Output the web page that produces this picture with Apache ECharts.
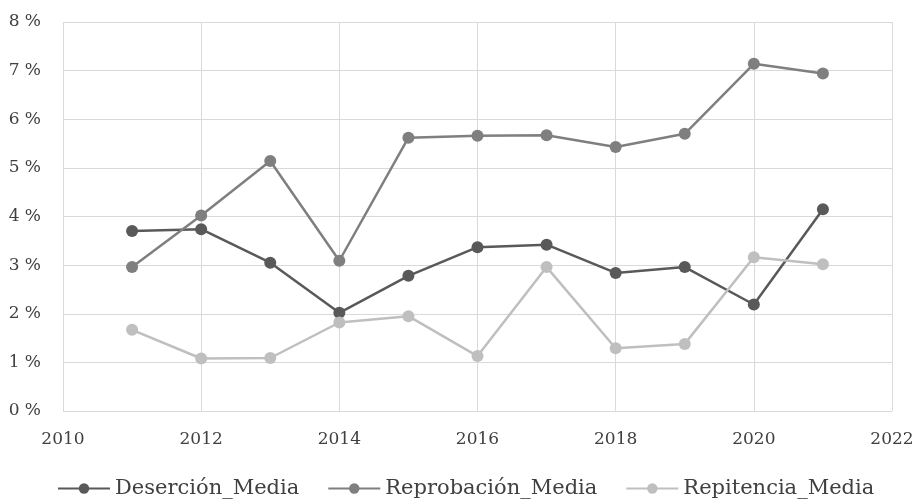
<!DOCTYPE html>
<html>
<head>
<meta charset="utf-8">
<script src="https://cdn.jsdelivr.net/npm/echarts@6/dist/echarts.min.js"></script>
<style>
html,body{margin:0;padding:0;background:#fff;}
#chart{width:918px;height:499px;}
</style>
</head>
<body>
<div id="chart"></div>
<script>
const years = [2011, 2012, 2013, 2014, 2015, 2016, 2017, 2018, 2019, 2020, 2021];
const desercion = [3.70, 3.74, 3.05, 2.02, 2.78, 3.37, 3.42, 2.84, 2.96, 2.19, 4.15];
const reprobacion = [2.96, 4.02, 5.14, 3.09, 5.62, 5.66, 5.67, 5.43, 5.70, 7.14, 6.94];
const repitencia = [1.67, 1.08, 1.09, 1.82, 1.95, 1.13, 2.96, 1.29, 1.38, 3.16, 3.02];
const seriesNames = ['Deserción_Media', 'Reprobación_Media', 'Repitencia_Media'];
const seriesColors = ['#595959', '#7f7f7f', '#bfbfbf'];

const font = 'DejaVu Serif';
const pair = (xs, ys) => xs.map((x, i) => [x, ys[i]]);
const allData = [desercion, reprobacion, repitencia];

const chart = echarts.init(document.getElementById('chart'));
chart.setOption({
  animation: false,
  backgroundColor: '#fff',
  grid: { left: 63, right: 26, top: 22, bottom: 88 },
  xAxis: {
    type: 'value', min: 2010, max: 2022, interval: 2,
    axisLine: { show: false },
    axisTick: { show: false },
    splitLine: { show: true, lineStyle: { color: '#d9d9d9', width: 1 } },
    axisLabel: { fontFamily: font, fontSize: 17, color: '#404040', margin: 20, formatter: v => String(v) }
  },
  yAxis: {
    type: 'value', min: 0, max: 8, interval: 1,
    axisLine: { show: false },
    axisTick: { show: false },
    splitLine: { show: true, lineStyle: { color: '#d9d9d9', width: 1 } },
    axisLabel: { fontFamily: font, fontSize: 17, color: '#404040', margin: 22, formatter: v => v + ' %' }
  },
  legend: {
    bottom: -5, left: 52,
    itemWidth: 52, itemHeight: 13, itemGap: 28,
    textStyle: { fontFamily: font, fontSize: 21, color: '#404040' },
    data: seriesNames
  },
  series: seriesNames.map((n, i) => ({
    name: n, type: 'line',
    data: pair(years, allData[i]),
    symbol: 'circle', symbolSize: 12,
    lineStyle: { color: seriesColors[i], width: 2.5 },
    itemStyle: { color: seriesColors[i] }
  }))
});
</script>
</body>
</html>
